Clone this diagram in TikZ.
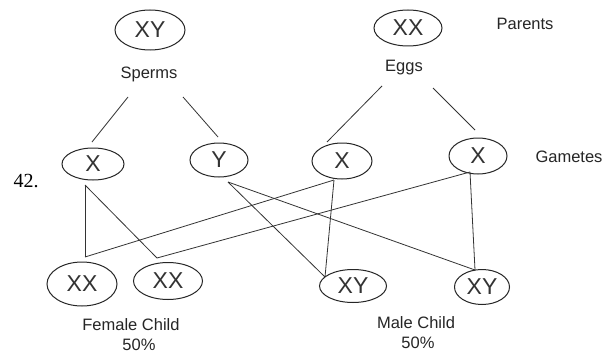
\documentclass[tikz,border=0pt]{standalone}
\usepackage{fontspec}
\setmainfont{Liberation Sans}
\newfontfamily\numfont{Liberation Serif}
\usetikzlibrary{shapes.geometric,calc}
\begin{document}
\begin{tikzpicture}[x=1pt,y=-1pt,
  chrom/.style={draw=black!85, line width=1pt, ellipse, inner sep=0pt,
    font=\fontsize{23}{23}\selectfont, text=black!80},
  lbl/.style={font=\fontsize{16.5}{16.5}\selectfont, text=black!85, inner sep=0pt},
  link/.style={draw=black!80, line width=0.8pt}]
\useasboundingbox[fill=white] (0,0) rectangle (607,353);

% parents
\node[chrom, minimum width=70pt, minimum height=40pt] (pxy) at (150,30) {XY};
\node[chrom, minimum width=68pt, minimum height=36pt] (pxx) at (408,28) {XX};
\node[lbl] (sperms) at (149,74) {Sperms};
\node[lbl] (eggs) at (404,68) {Eggs};
\node[lbl] (parents) at (525,24) {Parents};

% gametes
\node[chrom, minimum width=62pt, minimum height=32pt] (x1) at (93,164) {X};
\node[chrom, minimum width=58pt, minimum height=34pt] (y1) at (219,160) {Y};
\node[chrom, minimum width=60pt, minimum height=36pt] (x2) at (342,161) {X};
\node[chrom, minimum width=58pt, minimum height=36pt] (x3) at (478,156) {X};
\node[lbl] (gametes) at (569,157) {Gametes};
\node[font=\numfont\fontsize{20}{20}\selectfont, inner sep=0pt] (num) at (26,181) {42.};

% children
\node[chrom, minimum width=70pt, minimum height=44pt] (c1) at (82,284) {XX};
\node[chrom, minimum width=69pt, minimum height=37pt] (c2) at (168,281) {XX};
\node[chrom, minimum width=67pt, minimum height=33pt] (c3) at (353,286) {XY};
\node[chrom, minimum width=55pt, minimum height=35pt] (c4) at (482,287) {XY};
\node[lbl] (fem) at (131,325) {Female Child};
\node[lbl] (femp) at (139,345) {50\%};
\node[lbl] (male) at (416,323) {Male Child};
\node[lbl] (malep) at (418,343) {50\%};

% connection points
\coordinate (sp1) at ($(sperms)+(-21,23)$);
\coordinate (sp2) at ($(sperms)+(34,23)$);
\coordinate (eg1) at ($(eggs)+(-22,18)$);
\coordinate (eg2) at ($(eggs)+(29,20)$);
\coordinate (x1t) at ($(x1)+(-1,-22)$);
\coordinate (y1t) at ($(y1)+(-1,-23)$);
\coordinate (x2t) at ($(x2)+(-15,-19)$);
\coordinate (x3t) at ($(x3)+(-3,-26)$);
\coordinate (x1b) at ($(x1)+(-8,21)$);
\coordinate (y1b) at ($(y1)+(9,22)$);
\coordinate (x2b) at ($(x2)+(-8,19)$);
\coordinate (x3b) at ($(x3)+(-8,16)$);
\coordinate (c1t) at ($(c1)+(3,-27)$);
\coordinate (c2t) at ($(c2)+(-11,-23)$);
\coordinate (c3t) at ($(c3)+(-28,-9)$);
\coordinate (c4t) at ($(c4)+(-7,-17)$);

% connectors
\draw[link] (sp1) -- (x1t);
\draw[link] (sp2) -- (y1t);
\draw[link] (eg1) -- (x2t);
\draw[link] (eg2) -- (x3t);
\draw[link] (x1b) -- (c1t);
\draw[link] (x1b) -- (c2t);
\draw[link] (c1t) -- (x2b);
\draw[link] (c2t) -- (x3b);
\draw[link] (y1b) -- (c3t);
\draw[link] (y1b) -- (c4t);
\draw[link] (x2b) -- (c3t);
\draw[link] (x3b) -- (c4t);
\end{tikzpicture}
\end{document}
